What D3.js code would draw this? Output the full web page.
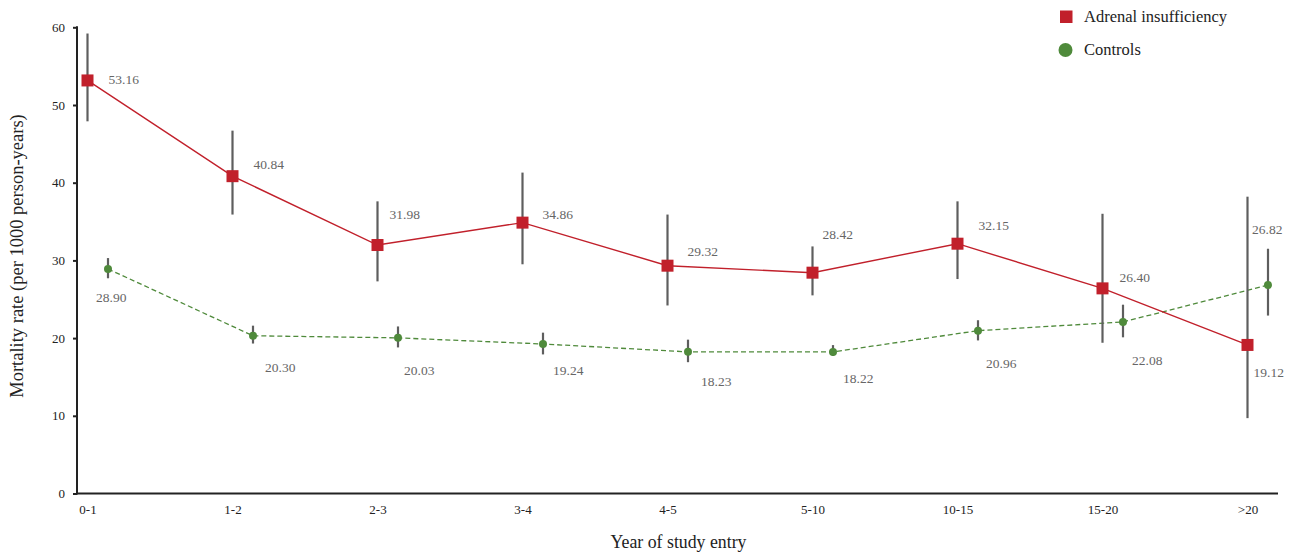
<!DOCTYPE html>
<html lang="en">
  <head>
    <meta charset="UTF-8" />
    <title>Mortality rate by year of study entry</title>
    <script src="https://d3js.org/d3.v7.min.js"></script>
    <style>
      body {
        margin: 0;
        background: #fff;
        font-family: 'Liberation Serif', 'Times New Roman', serif;
      }
      .axis text {
        font-family: 'Liberation Serif', 'Times New Roman', serif;
        font-size: 13px;
        fill: #222;
      }
      .axis line {
        stroke: #222;
        stroke-width: 2;
      }
      .val {
        font-size: 13.5px;
        fill: #666;
      }
    </style>
  </head>
  <body>
    <div id="chart"></div>
    <script>
      // categories and series values
      const periods = ['0-1', '1-2', '2-3', '3-4', '4-5', '5-10', '10-15', '15-20', '>20'];
      const yTicks = [0, 10, 20, 30, 40, 50, 60];

      const adrenal = [53.16, 40.84, 31.98, 34.86, 29.32, 28.42, 32.15, 26.4, 19.12];
      const adrenalLow = [47.9, 35.9, 27.3, 29.5, 24.2, 25.5, 27.6, 19.4, 9.7];
      const adrenalHigh = [59.2, 46.7, 37.6, 41.3, 35.9, 31.8, 37.6, 36.0, 38.2];

      const controls = [28.9, 20.3, 20.03, 19.24, 18.23, 18.22, 20.96, 22.08, 26.82];
      const controlsLow = [27.7, 19.3, 18.8, 17.9, 16.9, 17.7, 19.7, 20.1, 22.9];
      const controlsHigh = [30.3, 21.6, 21.5, 20.7, 19.8, 19.1, 22.3, 24.3, 31.5];

      // label placement (offsets in px from the marker)
      const adrenalLabelOff = [[21, 0], [21, -10], [12, -29], [20, -7], [20, -13], [10, -37], [21, -17], [17, -9], [6, 29]];
      const controlsLabelOff = [[-12, 30], [12, 33], [6, 34], [10, 28], [13, 31], [10, 28], [8, 34], [9, 40], [-16, -54]];

      const width = 1293, height = 554;
      const mLeft = 77, mRight = 1278, mTop = 27.3, mBottom = 493.5;
      const red = '#c1202b', green = '#4f8a3b', barColor = '#5e5e5e';
      const ctrlShift = 20.5;

      const svg = d3.select('#chart').append('svg')
        .attr('width', width).attr('height', height);

      const x = d3.scalePoint().domain(periods).range([87.5, 1247.5]);
      const y = d3.scaleLinear().domain([0, 60]).range([mBottom, mTop]);

      // axes
      const yAxis = svg.append('g').attr('class', 'axis')
        .attr('transform', `translate(${mLeft},0)`)
        .call(d3.axisLeft(y).tickValues(yTicks).tickSize(4).tickSizeOuter(0).tickPadding(8));
      yAxis.select('.domain').remove();
      yAxis.append('line').attr('x1', 0).attr('x2', 0).attr('y1', mTop - 1).attr('y2', mBottom + 1);

      const xAxis = svg.append('g').attr('class', 'axis')
        .attr('transform', `translate(0,${mBottom})`)
        .call(d3.axisBottom(x).tickSize(0).tickPadding(11));
      xAxis.select('.domain').remove();
      xAxis.append('line').attr('x1', mLeft - 1).attr('x2', mRight).attr('y1', 0).attr('y2', 0);

      // axis titles
      svg.append('text')
        .attr('transform', `translate(23,256) rotate(-90)`)
        .attr('text-anchor', 'middle')
        .attr('font-size', 18.5).attr('fill', '#222')
        .text('Mortality rate (per 1000 person-years)');
      svg.append('text')
        .attr('x', 678.5).attr('y', 548)
        .attr('text-anchor', 'middle')
        .attr('font-size', 17.8).attr('fill', '#222')
        .text('Year of study entry');

      function series(values, lows, highs, offs, dx) {
        return values.map((v, i) => ({
          cx: x(periods[i]) + dx, v, lo: lows[i], hi: highs[i], off: offs[i]
        }));
      }
      const ai = series(adrenal, adrenalLow, adrenalHigh, adrenalLabelOff, 0);
      const ct = series(controls, controlsLow, controlsHigh, controlsLabelOff, ctrlShift);

      const line = d3.line().x(d => d.cx).y(d => y(d.v));

      // controls line (dashed)
      svg.append('path').datum(ct)
        .attr('d', line).attr('fill', 'none')
        .attr('stroke', green).attr('stroke-width', 1.3)
        .attr('stroke-dasharray', '5,3');

      // adrenal line
      svg.append('path').datum(ai)
        .attr('d', line).attr('fill', 'none')
        .attr('stroke', red).attr('stroke-width', 1.4);

      // error bars
      [ai, ct].forEach(s => {
        svg.append('g').selectAll('line').data(s).join('line')
          .attr('x1', d => d.cx).attr('x2', d => d.cx)
          .attr('y1', d => y(d.hi)).attr('y2', d => y(d.lo))
          .attr('stroke', barColor).attr('stroke-width', 2.2);
      });

      // markers
      svg.append('g').selectAll('rect').data(ai).join('rect')
        .attr('x', d => d.cx - 6).attr('y', d => y(d.v) - 6)
        .attr('width', 12).attr('height', 12)
        .attr('fill', red);
      svg.append('g').selectAll('circle').data(ct).join('circle')
        .attr('cx', d => d.cx).attr('cy', d => y(d.v))
        .attr('r', 4).attr('fill', green);

      // value labels
      [ai, ct].forEach(s => {
        svg.append('g').selectAll('text').data(s).join('text')
          .attr('class', 'val')
          .attr('x', d => d.cx + d.off[0])
          .attr('y', d => y(d.v) + d.off[1])
          .attr('dominant-baseline', 'middle')
          .text(d => d.v.toFixed(2));
      });

      // legend
      const legend = svg.append('g');
      legend.append('rect').attr('x', 1060).attr('y', 10.5).attr('width', 12.5).attr('height', 12.5).attr('fill', red);
      legend.append('text').attr('x', 1084).attr('y', 18.5).attr('dominant-baseline', 'middle')
        .attr('font-size', 16.5).attr('fill', '#222').text('Adrenal insufficiency');
      legend.append('circle').attr('cx', 1065.5).attr('cy', 50).attr('r', 7).attr('fill', green);
      legend.append('text').attr('x', 1084).attr('y', 51.5).attr('dominant-baseline', 'middle')
        .attr('font-size', 16.5).attr('fill', '#222').text('Controls');
    </script>
  </body>
</html>
